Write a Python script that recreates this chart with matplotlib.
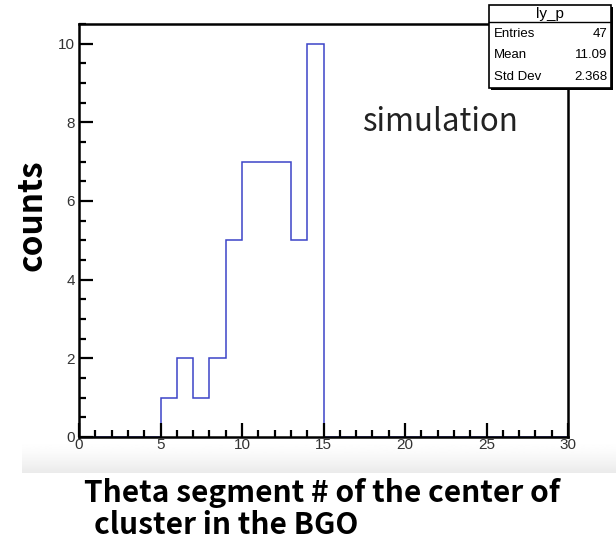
import numpy as np
import matplotlib.pyplot as plt
from matplotlib.ticker import MultipleLocator
from matplotlib.patches import Rectangle

# Theta segment histogram (bins of width 1, filled with integer segment numbers)
seg_edges = list(range(0, 31))
seg_lo = [5, 6, 7, 8, 9, 10, 11, 12, 13, 14]
seg_counts = [1, 2, 1, 2, 5, 7, 7, 7, 5, 10]

stats_title = 'ly_p'
stats_rows = [('Entries', '47'), ('Mean', '11.09'), ('Std Dev', '2.368')]

counts = np.zeros(len(seg_edges) - 1)
for s, c in zip(seg_lo, seg_counts):
    counts[s] = c

W, H = 616, 549
fig = plt.figure(figsize=(W / 100, H / 100), dpi=100)

# faint grey band under the frame
bg = fig.add_axes([0, 0, 1, 1], zorder=-5)
bg.set_xlim(0, W)
bg.set_ylim(H, 0)
bg.axis('off')
grad = np.linspace(0, 1, 50)[:, None] ** 1.5
bg.imshow(1 - 0.08 * grad, cmap='gray', vmin=0, vmax=1, aspect='auto',
          extent=[22, W, 473, 440], zorder=0)

ax = fig.add_axes([79 / W, 1 - 437 / H, (568 - 79) / W, (437 - 24) / H])
ax.patch.set_alpha(0)
ax.stairs(counts, seg_edges, color='#3c44c8', lw=1.1)

ax.set_xlim(0, 30)
ax.set_ylim(0, 10.5)
ax.xaxis.set_major_locator(MultipleLocator(5))
ax.xaxis.set_minor_locator(MultipleLocator(1))
ax.yaxis.set_major_locator(MultipleLocator(2))
ax.yaxis.set_minor_locator(MultipleLocator(0.5))
ax.tick_params(which='both', direction='in', width=1.6, colors='black',
               labelsize=11, top=False, right=False)
ax.tick_params(which='major', length=10)
ax.tick_params(which='minor', length=5)
ax.tick_params(axis='x', pad=1)
ax.tick_params(axis='y', pad=3)
for lbl in ax.get_xticklabels() + ax.get_yticklabels():
    lbl.set_family('Liberation Sans')
    lbl.set_color('#333333')
for sp in ax.spines.values():
    sp.set_linewidth(1.8)

ax.text(0.578, 0.74, 'simulation', transform=ax.transAxes, fontsize=22.5,
        family='Noto Sans CJK JP', color='#222222')

fig.text(32 / W, 1 - 215 / H, 'counts', rotation=90, ha='center', va='center',
         fontsize=24, fontweight='bold', family='Noto Sans CJK JP')
fig.text(84 / W, 1 - 493 / H, 'Theta segment # of the center of', ha='left',
         va='center', fontsize=21.5, fontweight='bold', family='Noto Sans CJK JP')
fig.text(94 / W, 1 - 525 / H, 'cluster in the BGO', ha='left',
         va='center', fontsize=21.5, fontweight='bold', family='Noto Sans CJK JP')

# stats box
x0, x1, y0, y1, yt = 489, 611, 5, 88, 22
box = fig.add_axes([0, 0, 1, 1], zorder=10)
box.set_xlim(0, W)
box.set_ylim(H, 0)
box.axis('off')
box.add_patch(Rectangle((x0 + 2, y0 + 2), x1 - x0, y1 - y0, fc='black', ec='none'))
box.add_patch(Rectangle((x0, y0), x1 - x0, y1 - y0, fc='white', ec='black', lw=1.2))
box.plot([x0, x1], [yt, yt], color='black', lw=1.0)
box.text((x0 + x1) / 2, (y0 + yt) / 2 + 0.5, stats_title, ha='center', va='center',
         fontsize=11, family='Liberation Sans')
for i, (k, v) in enumerate(stats_rows):
    yy = 34 + i * 21.5
    box.text(x0 + 5, yy, k, ha='left', va='center', fontsize=9.5,
             family='Liberation Sans')
    box.text(x1 - 4, yy, v, ha='right', va='center', fontsize=9.5,
             family='Liberation Sans')

fig.savefig('out.png', dpi=100)
